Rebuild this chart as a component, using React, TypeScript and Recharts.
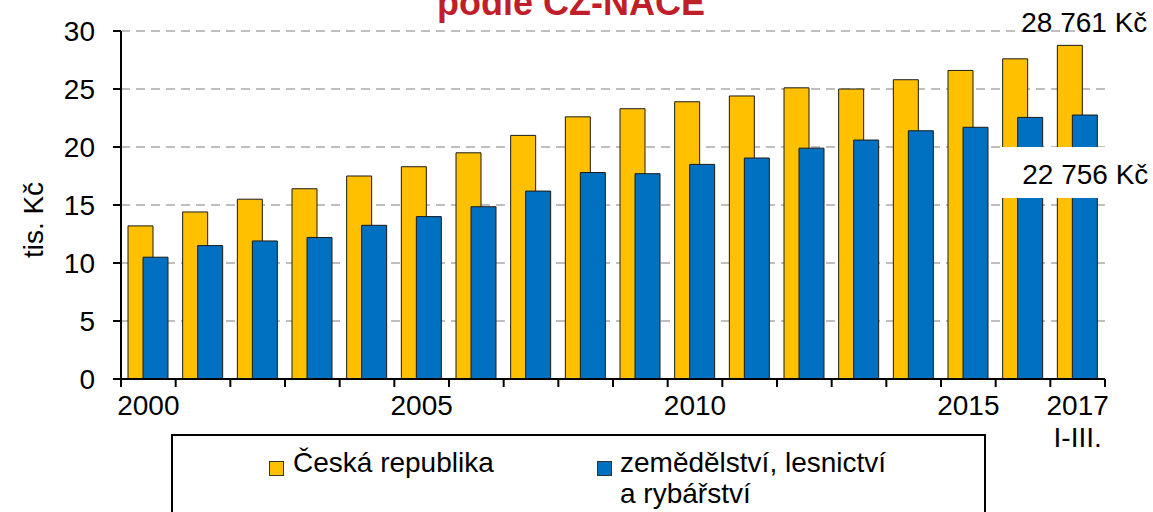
import React from 'react';
import { BarChart, Bar, XAxis, YAxis, CartesianGrid, LabelList } from 'recharts';

// years on the category axis
const years = [
  '2000', '2001', '2002', '2003', '2004', '2005', '2006', '2007', '2008',
  '2009', '2010', '2011', '2012', '2013', '2014', '2015', '2016', '2017',
];

// only some categories carry a visible label
const tickLabels = [
  '2000', '', '', '', '', '2005', '', '', '', '', '2010', '', '', '', '', '2015', '', '2017',
];
const tickSubLabels = ['', '', '', '', '', '', '', '', '', '', '', '', '', '', '', '', '', 'I-III.'];

// average monthly wage, thousands CZK
const czValues = [
  13.2, 14.4, 15.5, 16.4, 17.5, 18.3, 19.5, 21.0, 22.6,
  23.3, 23.9, 24.4, 25.1, 25.0, 25.8, 26.6, 27.6, 28.761,
];
const agriValues = [
  10.5, 11.5, 11.9, 12.2, 13.25, 14.0, 14.85, 16.2, 17.8,
  17.7, 18.5, 19.05, 19.9, 20.6, 21.4, 21.7, 22.55, 22.756,
];

const yTicks = [0, 5, 10, 15, 20, 25, 30];

const seriesNames = ['Česká republika', 'zemědělství, lesnictví', 'a rybářství'];

const data = years.map((year, i) => ({
  year,
  cz: czValues[i],
  agri: agriValues[i],
}));

const FONT = '"Liberation Sans", Arial, sans-serif';
const YELLOW = '#FFC000';
const BLUE = '#0070C0';
const last = years.length - 1;

const formatKc = (v: number) =>
  `${Math.round(v * 1000).toString().replace(/\B(?=(\d{3})+(?!\d))/g, ' ')} Kč`;

const XTick = (props: any) => {
  const { x, y, payload, index } = props;
  const half = payload?.offset ?? (1105 - 121) / years.length / 2;
  const i = index ?? years.indexOf(payload.value);
  return (
    <g>
      <line x1={x - half} x2={x - half} y1={y} y2={y + 8} stroke="#000" strokeWidth={2} />
      {i === last && (
        <line x1={x + half} x2={x + half} y1={y} y2={y + 8} stroke="#000" strokeWidth={2} />
      )}
      <text x={x} y={y + 36} textAnchor="middle" fontSize={28} fontFamily={FONT} fill="#000">
        {tickLabels[i]}
      </text>
      {tickSubLabels[i] && (
        <text x={x} y={y + 68} textAnchor="middle" fontSize={28} fontFamily={FONT} fill="#000">
          {tickSubLabels[i]}
        </text>
      )}
    </g>
  );
};

const YAxisLabel = (props: any) => {
  const vb = props.viewBox || { x: 0, y: 31, width: 121, height: 348 };
  const cx = vb.x + 33;
  const cy = vb.y + vb.height / 2 + 15;
  return (
    <text
      x={cx}
      y={cy}
      transform={`rotate(-90, ${cx}, ${cy})`}
      textAnchor="middle"
      dominantBaseline="central"
      fontSize={28}
      fontFamily={FONT}
      fill="#000"
    >
      tis. Kč
    </text>
  );
};

const CzLabel = (props: any) => {
  const { x, index, value } = props;
  if (index !== last) return null;
  return (
    <text x={x + 90} y={32} textAnchor="end" fontSize={28} fontFamily={FONT} fill="#000">
      {formatKc(value)}
    </text>
  );
};

const AgriLabel = (props: any) => {
  const { x, index, value } = props;
  if (index !== last) return null;
  return (
    <g>
      <rect x={x - 72} y={147} width={200} height={51} fill="#fff" />
      <text x={x + 76} y={184} textAnchor="end" fontSize={28} fontFamily={FONT} fill="#000">
        {formatKc(value)}
      </text>
    </g>
  );
};

const LegendSquare = ({ color }: { color: string }) => (
  <div
    style={{
      position: 'absolute',
      width: 13,
      height: 13,
      background: color,
      border: '1px solid #333',
    }}
  />
);

const App: React.FC = () => {
  return (
    <div
      style={{
        position: 'absolute',
        left: 0,
        top: 0,
        width: 1153,
        height: 512,
        overflow: 'hidden',
        background: '#fff',
        fontFamily: FONT,
      }}
    >
      <BarChart
        width={1153}
        height={512}
        data={data}
        margin={{ top: 31, right: 48, bottom: 53, left: 0 }}
        barSize={25}
        barGap={-10}
      >
        <text
          x={571}
          y={15}
          textAnchor="middle"
          fontSize={36}
          fontWeight="bold"
          fontFamily={FONT}
          fill="#C01F2A"
        >
          podle CZ-NACE
        </text>
        <CartesianGrid
          horizontal
          vertical={false}
          stroke="#bfbfbf"
          strokeWidth={2}
          strokeDasharray="9 6"
        />
        <XAxis
          dataKey="year"
          height={80}
          interval={0}
          tickSize={0}
          tickMargin={0}
          tickLine={false}
          axisLine={{ stroke: '#000', strokeWidth: 2 }}
          tick={<XTick />}
        />
        <YAxis
          width={121}
          domain={[0, 30]}
          ticks={yTicks}
          interval={0}
          tickSize={8}
          tickMargin={18}
          axisLine={{ stroke: '#000', strokeWidth: 2 }}
          tickLine={{ stroke: '#000', strokeWidth: 2 }}
          tick={{ fontSize: 28, fontFamily: FONT, fill: '#000' }}
          label={{ value: 'tis. Kč', content: <YAxisLabel /> }}
        />
        <Bar dataKey="cz" name={seriesNames[0]} fill={YELLOW} stroke="#1a1a1a" strokeWidth={1} isAnimationActive={false}>
          <LabelList dataKey="cz" content={<CzLabel />} />
        </Bar>
        <Bar dataKey="agri" name={seriesNames[1]} fill={BLUE} stroke="#1a1a1a" strokeWidth={1} isAnimationActive={false}>
          <LabelList dataKey="agri" content={<AgriLabel />} />
        </Bar>
      </BarChart>

      {/* Legend */}
      <div
        style={{
          position: 'absolute',
          left: 171,
          top: 434,
          width: 811,
          height: 100,
          border: '2px solid #000',
          background: '#fff',
          fontSize: 28,
          lineHeight: '31px',
          color: '#000',
        }}
      >
        <div style={{ position: 'absolute', left: 96, top: 25 }}>
          <LegendSquare color={YELLOW} />
        </div>
        <div style={{ position: 'absolute', left: 120, top: 11, whiteSpace: 'nowrap' }}>
          {seriesNames[0]}
        </div>
        <div style={{ position: 'absolute', left: 424, top: 25 }}>
          <LegendSquare color={BLUE} />
        </div>
        <div style={{ position: 'absolute', left: 447, top: 11, whiteSpace: 'nowrap' }}>
          {seriesNames[1]}
          <br />
          {seriesNames[2]}
        </div>
      </div>
    </div>
  );
};

export default App;
